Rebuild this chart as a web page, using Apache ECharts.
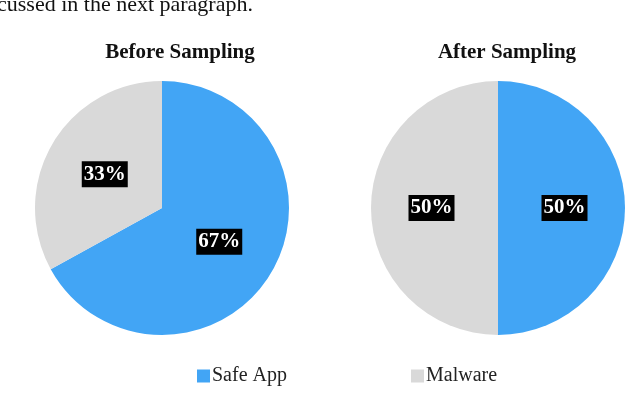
<!DOCTYPE html>
<html>
<head>
<meta charset="utf-8">
<script src="https://cdn.jsdelivr.net/npm/echarts@6/dist/echarts.min.js"></script>
<style>
  html, body { margin: 0; padding: 0; background: #fff; }
  #chart { width: 640px; height: 397px; }
</style>
</head>
<body>
<div id="chart"></div>
<script>
var classes = ['Safe App', 'Malware'];
var beforeValues = [67, 33];
var afterValues = [50, 50];
var titles = ['Before Sampling', 'After Sampling'];
var colors = ['#42A5F5', '#D9D9D9'];

var serif = '"Liberation Serif", "Times New Roman", serif';

function toData(vals) {
  return vals.map(function (v, i) { return { name: classes[i], value: v }; });
}

var labelStyle = {
  show: true,
  position: 'inside',
  formatter: '{c}%',
  color: '#fff',
  fontFamily: serif,
  fontWeight: 'bold',
  fontSize: 21,
  backgroundColor: '#000',
  padding: [4, 2, 1, 2]
};

var myChart = echarts.init(document.getElementById('chart'));
var option = {
  animation: false,
  color: colors,
  graphic: [{
    type: 'text',
    left: -3,
    top: -6,
    style: { text: 'cussed in the next paragraph.', font: '22px ' + serif, fill: '#111' }
  }],
  title: [
    { text: titles[0], left: 175, top: 37, textAlign: 'center',
      textStyle: { fontFamily: serif, fontSize: 21, fontWeight: 'bold', color: '#111' } },
    { text: titles[1], left: 502, top: 37, textAlign: 'center',
      textStyle: { fontFamily: serif, fontSize: 21, fontWeight: 'bold', color: '#111' } }
  ],
  legend: {
    data: classes,
    left: 197,
    top: 366,
    padding: 0,
    itemWidth: 13,
    itemHeight: 13,
    itemGap: 124,
    icon: 'rect',
    textStyle: { fontFamily: serif, fontSize: 20, color: '#222', padding: [0, 0, 0, -3] }
  },
  series: [
    {
      name: titles[0], type: 'pie', center: [162, 208], radius: 127,
      startAngle: 90, clockwise: true, silent: true,
      label: labelStyle, labelLine: { show: false },
      data: toData(beforeValues)
    },
    {
      name: titles[1], type: 'pie', center: [498, 208], radius: 127,
      startAngle: 90, clockwise: true, silent: true,
      label: labelStyle, labelLine: { show: false },
      data: toData(afterValues)
    }
  ]
};
myChart.setOption(option);
</script>
</body>
</html>
